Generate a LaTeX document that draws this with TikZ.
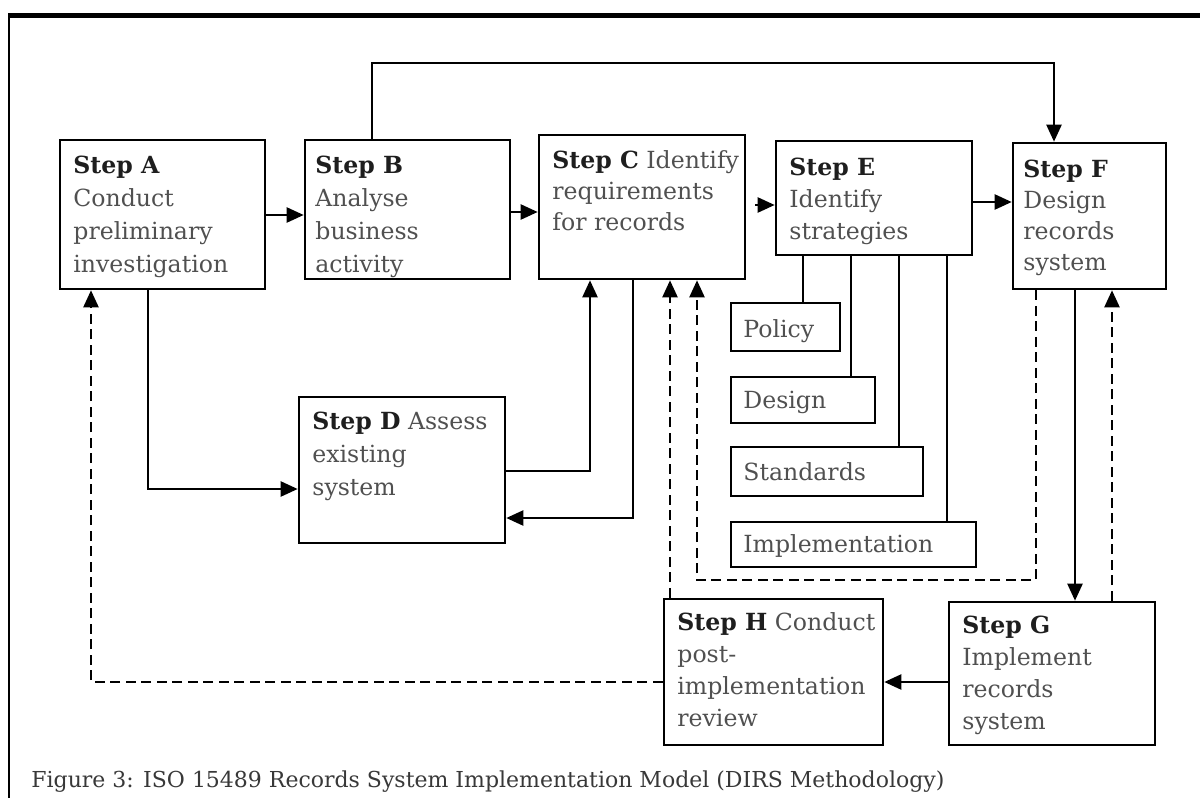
\documentclass[tikz,border=0pt]{standalone}
\usepackage{fontspec}
\setmainfont{DejaVu Serif}
\usetikzlibrary{arrows.meta,fit}

\definecolor{bodyink}{HTML}{505050}
\definecolor{stepink}{HTML}{1e1e1e}
\definecolor{capink}{HTML}{383838}

\tikzset{
  stepbox/.style={draw, line width=1.3pt, inner sep=0pt},
  body/.style={anchor=base west, inner sep=0pt, text=bodyink,
    font=\fontsize{11.8pt}{16pt}\selectfont},
  wide/.style={font=\fontsize{11.8pt}{16.5pt}\selectfont},
  link/.style={line width=1.15pt},
  flow/.style={link, -{Triangle[length=8.5pt,width=7.5pt]}},
  back/.style={flow, dash pattern=on 5pt off 2.75pt},
}
\newcommand\stepname[1]{\textcolor{stepink}{\bfseries #1}}
\newcommand\boxlines[1]{\begin{tabular}[t]{@{}l@{}}#1\end{tabular}}

\begin{document}
\begin{tikzpicture}[x=0.5pt,y=-0.5pt]
\useasboundingbox (0,0) rectangle (1200,798);

% outer frame: heavy top rule and thin left rule
\draw[line width=2.8pt] (8,15.5) -- (1200,15.5);
\draw[line width=1.4pt] (9,14) -- (9,798);

% step boxes
\node[stepbox, fit={(60,140) (265,289)}] (A) {};
\node[stepbox, fit={(305,140) (510,279)}] (B) {};
\node[stepbox, fit={(539,135) (745,279)}] (C) {};
\node[stepbox, fit={(299,397) (505,543)}] (D) {};
\node[stepbox, fit={(776,141) (972,255)}] (E) {};
\node[stepbox, fit={(1013,143) (1166,289)}] (F) {};
\node[stepbox, fit={(949,602) (1155,745)}] (G) {};
\node[stepbox, fit={(664,599) (883,745)}] (H) {};

% strategy boxes
\node[stepbox, fit={(731,303) (840,351)}] (pol) {};
\node[stepbox, fit={(731,377) (875,423)}] (des) {};
\node[stepbox, fit={(731,447) (923,496)}] (std) {};
\node[stepbox, fit={(731,522) (976,567)}] (imp) {};

% box texts
\node[body, wide] (At) at (73,173) {\boxlines{\stepname{Step A}\\Conduct\\preliminary\\investigation}};
\begin{scope}
  \clip (B.south west) rectangle (B.north east);
  \node[body, wide] (Bt) at (315,173) {\boxlines{\stepname{Step B}\\Analyse\\business\\activity}};
\end{scope}
\node[body, font=\fontsize{11.8pt}{15.5pt}\selectfont] (Ct) at (552,168) {\boxlines{\stepname{Step C} Identify\\requirements\\for records}};
\node[body, wide] (Dt) at (312,429) {\boxlines{\stepname{Step D} Assess\\existing\\system}};
\node[body] (Et) at (789,175) {\boxlines{\stepname{Step E}\\Identify\\strategies}};
\node[body, font=\fontsize{11.8pt}{15.5pt}\selectfont] (Ft) at (1023,177) {\boxlines{\stepname{Step F}\\Design\\records\\system}};
\node[body] (Gt) at (962,633) {\boxlines{\stepname{Step G}\\Implement\\records\\system}};
\node[body] (Ht) at (677,630) {\boxlines{\stepname{Step H} Conduct\\post-\\implementation\\review}};

\node[body] (polt) at (743,337) {Policy};
\node[body] (dest) at (743,408) {Design};
\node[body] (stdt) at (743,480) {Standards};
\node[body] (impt) at (743,552) {Implementation};

% routing levels
\coordinate (yAB) at (0,215);
\coordinate (yBC) at (0,212);
\coordinate (yCE) at (0,205);
\coordinate (yEF) at (0,202);
\coordinate (yTop) at (0,63);
\coordinate (xBtop) at (372,0);
\coordinate (xFtop) at (1054,0);
\coordinate (xAD) at (148,0);
\coordinate (yAD) at (0,489);
\coordinate (yDC) at (0,471);
\coordinate (xDC) at (590,0);
\coordinate (xCD) at (633,0);
\coordinate (yCD) at (0,518);
\coordinate (xHC) at (670,0);
\coordinate (xFC) at (697,0);
\coordinate (xFd) at (1036,0);
\coordinate (yFC) at (0,580);
\coordinate (xFG) at (1075,0);
\coordinate (xGF) at (1112,0);
\coordinate (yGH) at (0,682);
\coordinate (xHA) at (91,0);
\coordinate (xpol) at (803,0);
\coordinate (xdes) at (851,0);
\coordinate (xstd) at (899,0);
\coordinate (ximp) at (947,0);

% forward flow
\draw[flow] (A.east |- yAB) -- (B.west |- yAB);
\draw[flow] (B.east |- yBC) -- (C.west |- yBC);
\draw[flow, shorten <=4.5pt] (C.east |- yCE) -- (E.west |- yCE);
\draw[flow] (E.east |- yEF) -- (F.west |- yEF);
\draw[flow] (B.north -| xBtop) |- (yTop -| xFtop) -- (F.north -| xFtop);
\draw[flow] (A.south -| xAD) |- (D.west |- yAD);
\draw[flow] (D.east |- yDC) -| (C.south -| xDC);
\draw[flow] (C.south -| xCD) |- (D.east |- yCD);
\draw[flow] (F.south -| xFG) -- (G.north -| xFG);
\draw[flow] (G.west |- yGH) -- (H.east |- yGH);

% feedback loops
\draw[back] (H.north -| xHC) -- (C.south -| xHC);
\draw[back] (F.south -| xFd) |- (yFC -| xFC) -- (C.south -| xFC);
\draw[back] (G.north -| xGF) -- (F.south -| xGF);
\draw[back] (H.west |- yGH) -| (A.south -| xHA);

% strategy branches
\draw[link] (E.south -| xpol) -- (pol.north -| xpol);
\draw[link] (E.south -| xdes) -- (des.north -| xdes);
\draw[link] (E.south -| xstd) -- (std.north -| xstd);
\draw[link] (E.south -| ximp) -- (imp.north -| ximp);

% caption
\node[anchor=base west, inner sep=0pt, text=capink, font=\fontsize{11pt}{13pt}\selectfont] (cap) at (31,787)
  {Figure 3: ISO 15489 Records System Implementation Model (DIRS Methodology)};
\end{tikzpicture}
\end{document}
